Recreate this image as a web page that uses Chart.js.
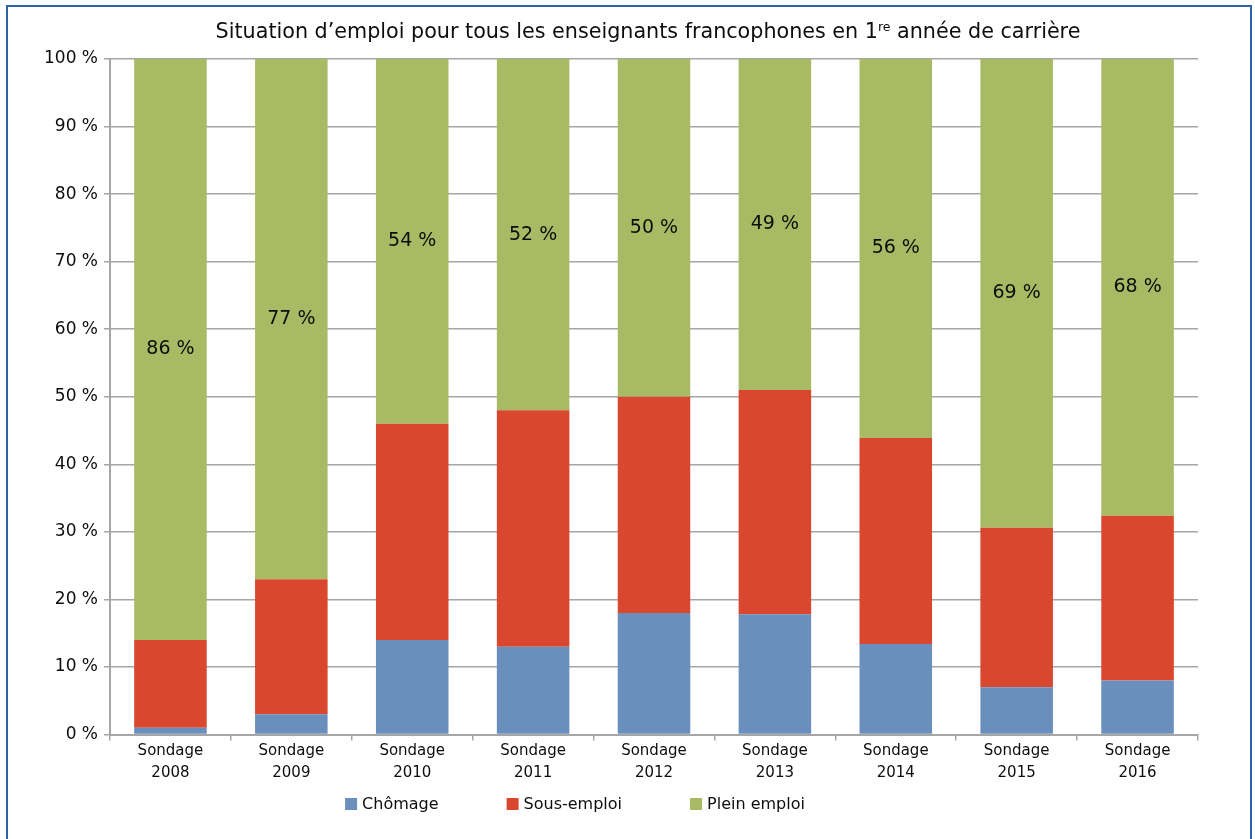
<!DOCTYPE html>
<html>
<head>
<meta charset="utf-8">
<script src="https://cdn.jsdelivr.net/npm/chart.js@4"></script>
<style>
  html, body { margin: 0; padding: 0; background: #fff; overflow: hidden; }
  #frame { position: absolute; left: 6px; top: 5px; width: 1242px; height: 900px; border: 2px solid #2f62a8; }
  #chart { position: absolute; left: 0; top: 0; width: 1255px; height: 839px; }
</style>
</head>
<body>
<div id="frame"></div>
<canvas id="chart" width="1255" height="839"></canvas>
<script>
// Données
var categories = [
    ['Sondage', '2008'], ['Sondage', '2009'], ['Sondage', '2010'],
    ['Sondage', '2011'], ['Sondage', '2012'], ['Sondage', '2013'],
    ['Sondage', '2014'], ['Sondage', '2015'], ['Sondage', '2016']
];
var chomage    = [1, 3, 14, 13, 18, 17.8, 13.4, 7, 8];
var sousEmploi = [13, 20, 32, 35, 32, 33.2, 30.5, 23.6, 24.4];
var pleinEmploi = [86, 77, 54, 52, 50, 49, 56.1, 69.4, 67.6];
var yTicks = [0, 10, 20, 30, 40, 50, 60, 70, 80, 90, 100];

var FONT = "'DejaVu Sans', sans-serif";
var TEXT = '#0d0d0d';

// Titre avec exposant (1re)
var titlePlugin = {
    id: 'titleSup',
    afterDraw: function(chart) {
        var ctx = chart.ctx;
        var parts = [
            { t: 'Situation d\u2019emploi pour tous les enseignants francophones en 1', size: 20.7, dy: 0 },
            { t: 're', size: 12.5, dy: -7 },
            { t: ' ann\u00e9e de carri\u00e8re', size: 20.7, dy: 0 }
        ];
        ctx.save();
        ctx.fillStyle = TEXT;
        ctx.textBaseline = 'alphabetic';
        var total = 0;
        parts.forEach(function(p) {
            ctx.font = p.size + 'px ' + FONT;
            p.w = ctx.measureText(p.t).width;
            total += p.w;
        });
        var x = 648 - total / 2;
        parts.forEach(function(p) {
            ctx.font = p.size + 'px ' + FONT;
            ctx.fillText(p.t, x, 38 + p.dy);
            x += p.w;
        });
        ctx.restore();
    }
};

// Étiquettes de valeur sur « Plein emploi »
var labelPlugin = {
    id: 'pleinLabels',
    afterDatasetsDraw: function(chart) {
        var ctx = chart.ctx;
        var meta = chart.getDatasetMeta(2);
        ctx.save();
        ctx.font = '19px ' + FONT;
        ctx.fillStyle = TEXT;
        ctx.textAlign = 'center';
        ctx.textBaseline = 'middle';
        meta.data.forEach(function(bar, i) {
            var y = (bar.y + bar.base) / 2;
            ctx.fillText(Math.round(pleinEmploi[i]) + ' %', bar.x, y);
        });
        ctx.restore();
    }
};

// Légende en bas (espacement plus large que celle de Chart.js)
var legendPlugin = {
    id: 'bottomLegend',
    afterDraw: function(chart) {
        var ctx = chart.ctx;
        var box = 12, gap = 5, spacing = 68, y = 804;
        ctx.save();
        ctx.font = '16px ' + FONT;
        ctx.textBaseline = 'middle';
        var items = chart.data.datasets.map(function(ds) {
            return { label: ds.label, color: ds.backgroundColor, w: box + gap + ctx.measureText(ds.label).width };
        });
        var total = items.reduce(function(s, it) { return s + it.w; }, 0) + spacing * (items.length - 1);
        var x = 575 - total / 2;
        items.forEach(function(it) {
            ctx.fillStyle = it.color;
            ctx.fillRect(x, y - box / 2, box, box);
            ctx.fillStyle = TEXT;
            ctx.fillText(it.label, x + box + gap, y + 1);
            x += it.w + spacing;
        });
        ctx.restore();
    }
};

var ctx = document.getElementById('chart').getContext('2d');
var chart = new Chart(ctx, {
    type: 'bar',
    data: {
        labels: categories,
        datasets: [
            { label: 'Ch\u00f4mage', data: chomage, backgroundColor: '#6a8fbd' },
            { label: 'Sous-emploi', data: sousEmploi, backgroundColor: '#d8472e' },
            { label: 'Plein emploi', data: pleinEmploi, backgroundColor: '#a8bb64' }
        ]
    },
    options: {
        responsive: false,
        animation: false,
        devicePixelRatio: 1,
        layout: { padding: { top: 59, right: 57, left: 38, bottom: 55 } },
        datasets: { bar: { categoryPercentage: 1, barPercentage: 0.6 } },
        plugins: {
            legend: { display: false },
            tooltip: { enabled: false }
        },
        scales: {
            x: {
                stacked: true,
                grid: { offset: true, drawOnChartArea: false, tickLength: 6, color: '#a6a6a6', lineWidth: 1.5 },
                border: { color: '#a6a6a6', width: 2 },
                ticks: { color: TEXT, font: { family: FONT, size: 15, lineHeight: 1.45 }, maxRotation: 0, padding: 0 }
            },
            y: {
                stacked: true,
                min: 0, max: 100,
                afterBuildTicks: function(axis) {
                    axis.ticks = yTicks.map(function(v) { return { value: v }; });
                },
                grid: { color: '#a6a6a6', lineWidth: 1.5, tickLength: 6 },
                border: { color: '#a6a6a6', width: 2 },
                ticks: {
                    color: TEXT, padding: 6,
                    font: { family: FONT, size: 17 },
                    callback: function(v) { return v + ' %'; }
                }
            }
        }
    },
    plugins: [titlePlugin, labelPlugin, legendPlugin]
});
</script>
</body>
</html>
